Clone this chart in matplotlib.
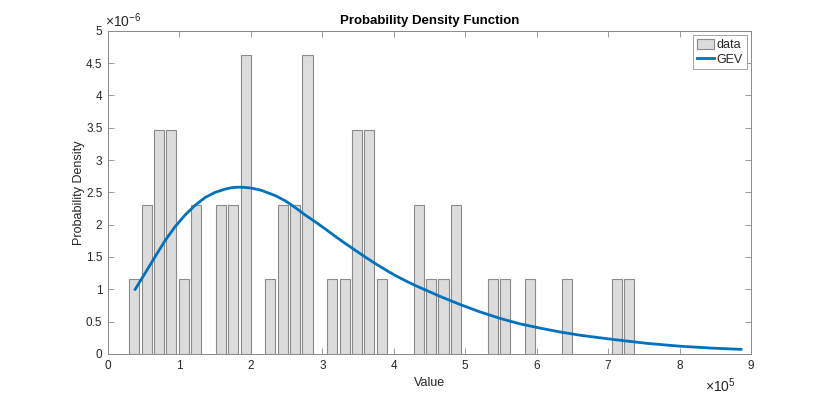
import numpy as np
import matplotlib
matplotlib.use("Agg")
import matplotlib.pyplot as plt
import matplotlib.ticker as mticker

plt.rcParams["font.family"] = ["Liberation Sans", "DejaVu Sans"]
plt.rcParams["mathtext.fontset"] = "custom"
plt.rcParams["mathtext.rm"] = "Liberation Sans"
plt.rcParams["mathtext.it"] = "Liberation Sans"

# --- histogram (counts per bin, 50 samples) ---
FIRST_CENTER = 36800.0
BIN_WIDTH = 17316.0
COUNTS = [1, 2, 3, 3, 1, 2, 0, 2, 2, 4,
          0, 1, 2, 2, 4, 0, 1, 1, 3, 3,
          1, 0, 0, 2, 1, 1, 2, 0, 0, 1,
          1, 0, 1, 0, 0, 1, 0, 0, 0, 1,
          1]

# --- fitted GEV pdf ---
GEV_X = [0.38, 0.52, 0.66, 0.80, 0.94, 1.08, 1.22, 1.36, 1.50, 1.64,
         1.73, 1.82, 1.92, 2.01, 2.15, 2.34, 2.48, 2.62, 2.76, 2.90,
         3.04, 3.18, 3.32, 3.46, 3.60, 3.74, 3.88, 4.02, 4.16, 4.30,
         4.65, 4.93, 5.21, 5.49, 5.77, 6.05, 6.33, 6.61, 6.89, 7.07,
         7.54, 8.01, 8.47, 8.86]  # x 1e5
GEV_Y = [1.00, 1.25, 1.505, 1.755, 1.97, 2.15, 2.30, 2.42, 2.50, 2.55,
         2.572, 2.58, 2.576, 2.565, 2.53, 2.45, 2.37, 2.265, 2.15, 2.045,
         1.935, 1.82, 1.71, 1.605, 1.50, 1.40, 1.305, 1.215, 1.135, 1.06,
         0.89, 0.765, 0.65, 0.55, 0.465, 0.40, 0.34, 0.29, 0.25, 0.225,
         0.165, 0.12, 0.09, 0.072]  # x 1e-6

X_SCALE = 1e5
Y_SCALE = 1e-6

counts = np.array(COUNTS, dtype=float)
centers = FIRST_CENTER + BIN_WIDTH * np.arange(len(counts))
density = counts / (counts.sum() * BIN_WIDTH)
keep = counts > 0

TEXT = "#262626"
AXIS = "#8a8a8a"

fig = plt.figure(figsize=(8.3, 3.99), dpi=100)
ax = fig.add_axes([0.1301, 0.1128, 0.7747, 0.8103])

bars = ax.bar(centers[keep], density[keep], width=0.82 * BIN_WIDTH,
              color="#dcdcdc", edgecolor="#8a8a8a", linewidth=0.8, label="data")
line, = ax.plot(np.array(GEV_X) * X_SCALE, np.array(GEV_Y) * Y_SCALE,
                color="#0072BD", linewidth=2.0, label="GEV")

ax.set_xlim(0, 9e5)
ax.set_ylim(0, 5e-6)
ax.set_xticks(np.arange(0, 10) * X_SCALE)
ax.set_yticks(np.arange(0, 5.5, 0.5) * Y_SCALE)
ax.xaxis.set_major_formatter(mticker.FuncFormatter(lambda v, _p: f"{v / X_SCALE:g}"))
ax.yaxis.set_major_formatter(mticker.FuncFormatter(lambda v, _p: f"{v / Y_SCALE:g}"))
ax.tick_params(direction="in", length=4, width=0.6, color=AXIS,
               labelcolor=TEXT, labelsize=8.5, top=True, right=True, pad=4)
for spine in ax.spines.values():
    spine.set_color(AXIS)
    spine.set_linewidth(0.7)

ax.set_xlabel("Value", fontsize=9, color=TEXT, labelpad=4)
ax.set_ylabel("Probability Density", fontsize=9, color=TEXT, labelpad=1)
ax.set_title("Probability Density Function", fontsize=9.5, fontweight="bold",
             color="black", pad=5)

ax.text(-0.005, 1.003, r"$\times10^{-6}$", transform=ax.transAxes,
        fontsize=10, color=TEXT, ha="left", va="bottom")
ax.text(0.977, -0.07, r"$\times10^{5}$", transform=ax.transAxes,
        fontsize=10, color=TEXT, ha="right", va="top")

leg = ax.legend([bars, line], ["data", "GEV"], loc="upper right", fontsize=9,
                frameon=True, fancybox=False, edgecolor=AXIS,
                handlelength=1.35, handleheight=0.9, handletextpad=0.2,
                borderpad=0.3, labelspacing=0.15, borderaxespad=0.35)
leg.get_frame().set_linewidth(0.7)
for t in leg.get_texts():
    t.set_color(TEXT)

fig.savefig("out.png", dpi=100)
